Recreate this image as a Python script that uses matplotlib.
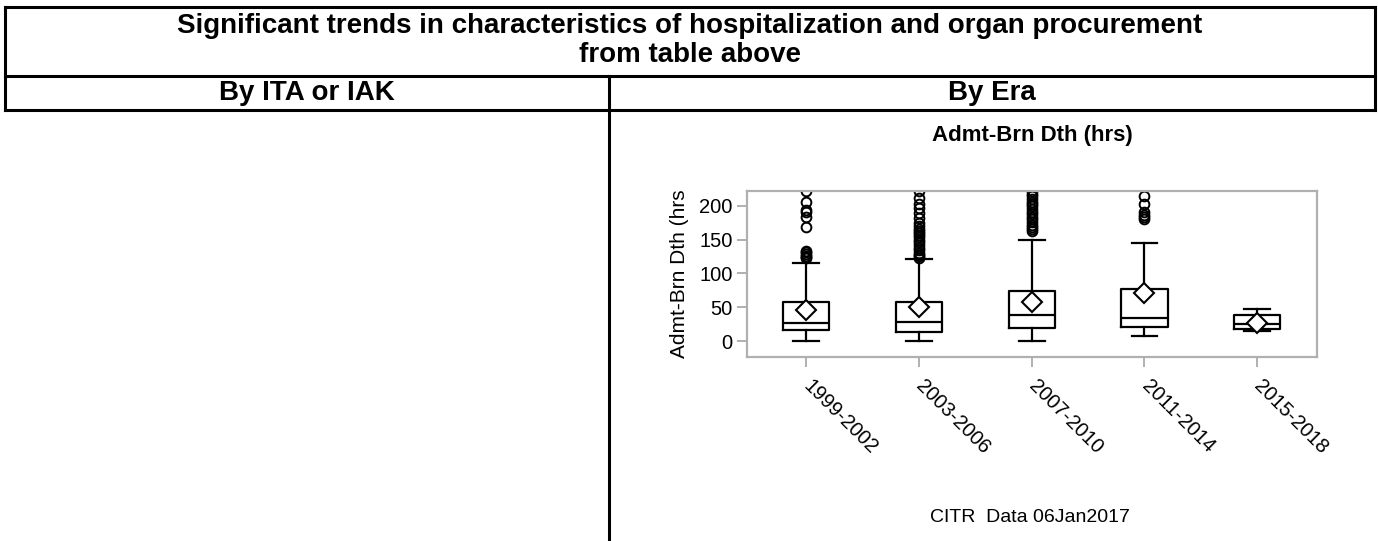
import matplotlib
matplotlib.use('Agg')
import matplotlib.pyplot as plt

plt.rcParams['font.family'] = ['Liberation Sans', 'DejaVu Sans']

# box statistics (hours)
eras = ['1999-2002', '2003-2006', '2007-2010', '2011-2014', '2015-2018']
whislo = [0.5, 0, 0, 7, 15]
q1 = [16, 14, 19, 20, 18]
med = [26, 28.5, 39, 34.5, 25.5]
q3 = [57.5, 57.5, 74.5, 77.5, 38.5]
whishi = [116, 121.5, 149, 145, 48]
means = [46, 51, 58, 71.5, 27]
fliers = [
    [122, 124, 126, 128, 131, 133, 168, 184, 190, 193, 205, 222],
    [123, 125, 127, 130, 134, 138, 142, 146, 150, 154, 157, 160, 163, 166,
     170, 174, 182, 189, 196, 203, 211, 222],
    [162, 165, 169, 172, 176, 180, 184, 188, 191, 195, 199, 203, 206, 210,
     214, 218, 222],
    [180, 183, 186, 191, 203, 214],
    [],
]

W, H = 1378, 541
fig = plt.figure(figsize=(W / 100, H / 100), dpi=100)

# table frame drawn in pixel coords on a background axes
bg = fig.add_axes([0, 0, 1, 1])
bg.set_xlim(0, W)
bg.set_ylim(H, 0)
bg.axis('off')
lw = 2.2
bg.plot([5, 1375], [7, 7], 'k', lw=lw)
bg.plot([5, 1375], [76, 76], 'k', lw=lw)
bg.plot([5, 1375], [110, 110], 'k', lw=lw)
bg.plot([5, 5], [7, 110], 'k', lw=lw)
bg.plot([1375, 1375], [7, 110], 'k', lw=lw)
bg.plot([609, 609], [76, H], 'k', lw=lw)

hfs = 20
bg.text(690, 26, 'Significant trends in characteristics of hospitalization and organ procurement',
        ha='center', va='center', fontsize=hfs, fontweight='bold')
bg.text(690, 55, 'from table above', ha='center', va='center', fontsize=hfs, fontweight='bold')
bg.text(307, 93, 'By ITA or IAK', ha='center', va='center', fontsize=hfs, fontweight='bold')
bg.text(992, 93, 'By Era', ha='center', va='center', fontsize=hfs, fontweight='bold')
bg.text(1032, 136, 'Admt-Brn Dth (hrs)', ha='center', va='center', fontsize=16, fontweight='bold')
bg.text(1030, 517, 'CITR  Data 06Jan2017', ha='center', va='center', fontsize=14)

# box plot axes
ax = fig.add_axes([747 / W, 1 - 357 / H, (1317 - 747) / W, (357 - 191) / H])
stats = []
for i in range(len(eras)):
    stats.append(dict(whislo=whislo[i], q1=q1[i], med=med[i], q3=q3[i],
                      whishi=whishi[i], mean=means[i], fliers=fliers[i], label=eras[i]))

lc = 'black'
ax.bxp(stats, positions=range(1, len(eras) + 1), widths=0.41, capwidths=0.23,
       showmeans=True, showfliers=True,
       boxprops=dict(color=lc, lw=1.6),
       medianprops=dict(color=lc, lw=1.6),
       whiskerprops=dict(color=lc, lw=1.6),
       capprops=dict(color=lc, lw=1.6),
       meanprops=dict(marker='D', markerfacecolor='white', markeredgecolor=lc,
                      markersize=10, markeredgewidth=1.5),
       flierprops=dict(marker='o', markerfacecolor='none', markeredgecolor=lc,
                       markersize=7, markeredgewidth=1.4))

ax.set_xlim(0.475, 5.53)
ax.set_ylim(-23.6, 221.7)
ax.set_yticks([0, 50, 100, 150, 200])
ax.set_ylabel('Admt-Brn Dth (hrs', fontsize=15, labelpad=7)
for s in ax.spines.values():
    s.set_color('#b0b0b0')
    s.set_linewidth(1.6)
ax.tick_params(axis='both', colors='#b0b0b0', length=7, width=1.4, labelsize=14.5,
               labelcolor='black')
ax.tick_params(axis='x', pad=12)
for t in ax.get_xticklabels():
    t.set_rotation(-45)
    t.set_rotation_mode('anchor')
    t.set_ha('left')
    t.set_va('center')

fig.savefig('out.png', dpi=100)
